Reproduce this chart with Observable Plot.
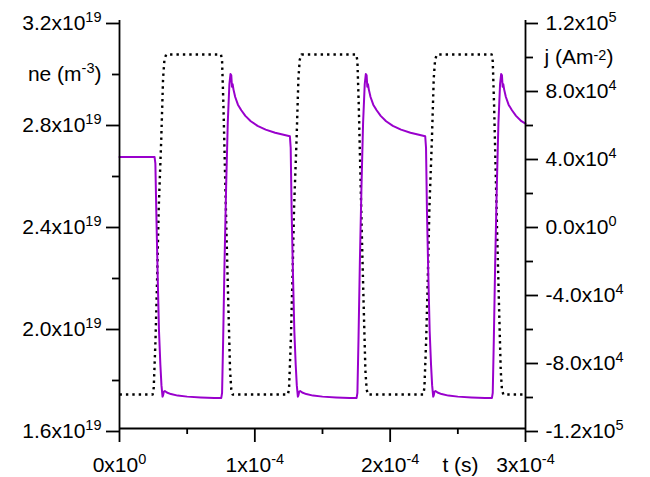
<!DOCTYPE html>
<html>
<head>
<meta charset="utf-8">
<script src="https://cdn.jsdelivr.net/npm/d3@7"></script>
<script src="https://cdn.jsdelivr.net/npm/@observablehq/plot@0.6"></script>
<style>
  html, body { margin: 0; padding: 0; background: white; }
</style>
</head>
<body>
<div id="chart"></div>
<script>
// time in units of 1e-4 s, ne in units of 1e19 m^-3, j in units of 1e4 A m^-2
const neTime = [
  0, 0.259, 0.265, 0.272, 0.282, 0.292, 0.302, 0.310, 0.318, 0.322, 0.328, 0.335, 0.350, 0.380, 0.430, 0.500, 0.600, 0.700, 0.752,
  0.758, 0.766, 0.776, 0.788, 0.800, 0.812, 0.820, 0.826, 0.831, 0.836, 0.842, 0.855, 0.875, 0.900, 0.930, 0.970, 1.020, 1.080, 1.150, 1.220, 1.259,
  1.265, 1.272, 1.282, 1.292, 1.302, 1.310, 1.318, 1.322, 1.328, 1.335, 1.350, 1.380, 1.430, 1.500, 1.600, 1.700, 1.752,
  1.758, 1.766, 1.776, 1.788, 1.800, 1.812, 1.820, 1.826, 1.831, 1.836, 1.842, 1.855, 1.875, 1.900, 1.930, 1.970, 2.020, 2.080, 2.150, 2.220, 2.259,
  2.265, 2.272, 2.282, 2.292, 2.302, 2.310, 2.318, 2.322, 2.328, 2.335, 2.350, 2.380, 2.430, 2.500, 2.600, 2.700, 2.752,
  2.758, 2.766, 2.776, 2.788, 2.800, 2.812, 2.820, 2.826, 2.831, 2.836, 2.842, 2.855, 2.875, 2.900, 2.930, 2.970, 3.000
];
const neValue = [
  2.665, 2.665, 2.640, 2.450, 2.200, 1.980, 1.850, 1.770, 1.725, 1.730, 1.745, 1.747, 1.741, 1.735, 1.729, 1.725, 1.722, 1.720, 1.720,
  1.740, 1.950, 2.250, 2.550, 2.800, 2.950, 2.990, 2.985, 2.940, 2.950, 2.930, 2.900, 2.870, 2.848, 2.826, 2.805, 2.787, 2.772, 2.760, 2.751, 2.746,
  2.700, 2.450, 2.200, 1.980, 1.850, 1.770, 1.725, 1.730, 1.745, 1.747, 1.741, 1.735, 1.729, 1.725, 1.722, 1.720, 1.720,
  1.740, 1.950, 2.250, 2.550, 2.800, 2.950, 2.990, 2.985, 2.940, 2.950, 2.930, 2.900, 2.870, 2.848, 2.826, 2.805, 2.787, 2.772, 2.760, 2.751, 2.746,
  2.700, 2.450, 2.200, 1.980, 1.850, 1.770, 1.725, 1.730, 1.745, 1.747, 1.741, 1.735, 1.729, 1.725, 1.722, 1.720, 1.720,
  1.740, 1.950, 2.250, 2.550, 2.800, 2.950, 2.990, 2.985, 2.940, 2.950, 2.930, 2.900, 2.870, 2.848, 2.826, 2.805, 2.796
];
const jTime = [
  0, 0.245, 0.253, 0.266, 0.279, 0.290, 0.308, 0.322, 0.332, 0.345,
  0.750, 0.758, 0.768, 0.780, 0.792, 0.805, 0.817, 0.826, 0.836,
  1.245, 1.253, 1.266, 1.279, 1.290, 1.308, 1.322, 1.332, 1.345,
  1.750, 1.758, 1.768, 1.780, 1.792, 1.805, 1.817, 1.826, 1.836,
  2.245, 2.253, 2.266, 2.279, 2.290, 2.308, 2.322, 2.332, 2.345,
  2.750, 2.758, 2.768, 2.780, 2.792, 2.805, 2.817, 2.826, 2.836, 3.000
];
const jValue = [
  -10, -10, -9.6, -6.8, -2.9, 1.0, 4.9, 8.6, 9.7, 10,
  10, 9.6, 7.0, 3.0, -1.0, -5.0, -8.6, -9.7, -10,
  -10, -9.6, -6.8, -2.9, 1.0, 4.9, 8.6, 9.7, 10,
  10, 9.6, 7.0, 3.0, -1.0, -5.0, -8.6, -9.7, -10,
  -10, -9.6, -6.8, -2.9, 1.0, 4.9, 8.6, 9.7, 10,
  10, 9.6, 7.0, 3.0, -1.0, -5.0, -8.6, -9.7, -10, -10
];

const xMajor = [0, 1, 2, 3];
const xMajorLabels = ["0x10^{0}", "1x10^{-4}", "2x10^{-4}", "3x10^{-4}"];
const xMinor = [0.5, 1.5, 2.5];
const neMajor = [1.6, 2.0, 2.4, 2.8, 3.2];
const neMajorLabels = ["1.6x10^{19}", "2.0x10^{19}", "2.4x10^{19}", "2.8x10^{19}", "3.2x10^{19}"];
const neMinor = [1.8, 2.2, 2.6, 3.0];
const neTitle = "ne (m^{-3})";
const jMajor = [-12, -8, -4, 0, 4, 8, 12];
const jMajorLabels = ["-1.2x10^{5}", "-8.0x10^{4}", "-4.0x10^{4}", "0.0x10^{0}", "4.0x10^{4}", "8.0x10^{4}", "1.2x10^{5}"];
const jMinor = [-10, -6, -2, 2, 6, 10];
const jTitle = "j (Am~{-2})";
const xTitle = "t (s)";

// map j (right axis) onto the ne scale: -12..12 -> 1.6..3.2
const jToNe = j => 1.6 + (j + 12) / 24 * 1.6;

const neData = neTime.map((t, i) => ({t, v: neValue[i]}));
const jData = jTime.map((t, i) => ({t, v: jToNe(jValue[i])}));

const AX = 1.8;
const chart = Plot.plot({
  width: 650,
  height: 477,
  marginLeft: 119,
  marginRight: 125,
  marginTop: 20,
  marginBottom: 49,
  x: {domain: [0, 3]},
  y: {domain: [1.6, 3.2]},
  style: {fontFamily: "'Liberation Sans', Arial, sans-serif", fontSize: "21px", background: "white", color: "black"},
  marks: [
    Plot.line(jData, {x: "t", y: "v", stroke: "black", strokeWidth: 2.4, strokeDasharray: "2.4,4", strokeLinecap: "butt", curve: "linear"}),
    Plot.line(neData, {x: "t", y: "v", stroke: "#9900cc", strokeWidth: 2, curve: "linear"}),
    Plot.ruleX([0, 3], {stroke: "black", strokeWidth: AX}),
    Plot.ruleY([1.6], {stroke: "black", strokeWidth: AX}),
    // left axis
    Plot.axisY(neMajor, {anchor: "left", tickSize: 13, tickPadding: 5, strokeWidth: AX, dy: 3, label: null,
      tickFormat: d => neMajorLabels[neMajor.indexOf(d)]}),
    Plot.axisY(neMinor, {anchor: "left", tickSize: 7, tickPadding: 11, strokeWidth: AX, dy: 3, label: null,
      tickFormat: d => d === 3.0 ? neTitle : ""}),
    // right axis (j)
    Plot.axisY(jMajor.map(jToNe), {anchor: "right", tickSize: 12, tickPadding: 8, strokeWidth: AX, dy: 3, label: null,
      tickFormat: (d, i) => jMajorLabels[i]}),
    Plot.axisY(jMinor.map(jToNe), {anchor: "right", tickSize: 7, tickPadding: 12, strokeWidth: AX, dy: 3, label: null,
      tickFormat: (d, i) => jMinor[i] === 10 ? jTitle : ""}),
    // bottom axis
    Plot.axisX(xMajor, {anchor: "bottom", tickSize: 14, tickPadding: 15, strokeWidth: AX, label: null,
      tickFormat: d => xMajorLabels[xMajor.indexOf(d)]}),
    Plot.axisX(xMinor, {anchor: "bottom", tickSize: 6, tickPadding: 0, strokeWidth: AX, label: null, tickFormat: () => ""}),
    Plot.text([xTitle], {frameAnchor: "bottom-right", dx: -65, dy: 29, lineAnchor: "top", textAnchor: "middle", fill: "black"})
  ]
});

// superscripts: ^{..} raised, ~{..} slightly raised
chart.querySelectorAll("text").forEach(el => {
  const s = el.textContent;
  if (!/[\^~]\{/.test(s)) return;
  const parts = s.split(/([\^~]\{[^}]*\})/).filter(p => p !== "");
  while (el.firstChild) el.removeChild(el.firstChild);
  let shift = 0;
  const NS = "http://www.w3.org/2000/svg";
  parts.forEach(p => {
    const ts = document.createElementNS(NS, "tspan");
    const m = p.match(/^([\^~])\{([^}]*)\}$/);
    if (m) {
      const raise = m[1] === "^" ? -8 : -4;
      ts.setAttribute("dy", raise - shift);
      ts.setAttribute("font-size", "14.5px");
      ts.textContent = m[2];
      shift = raise;
    } else {
      if (shift !== 0) ts.setAttribute("dy", -shift);
      ts.textContent = p;
      shift = 0;
    }
    el.appendChild(ts);
  });
});

document.getElementById("chart").appendChild(chart);
</script>
</body>
</html>
